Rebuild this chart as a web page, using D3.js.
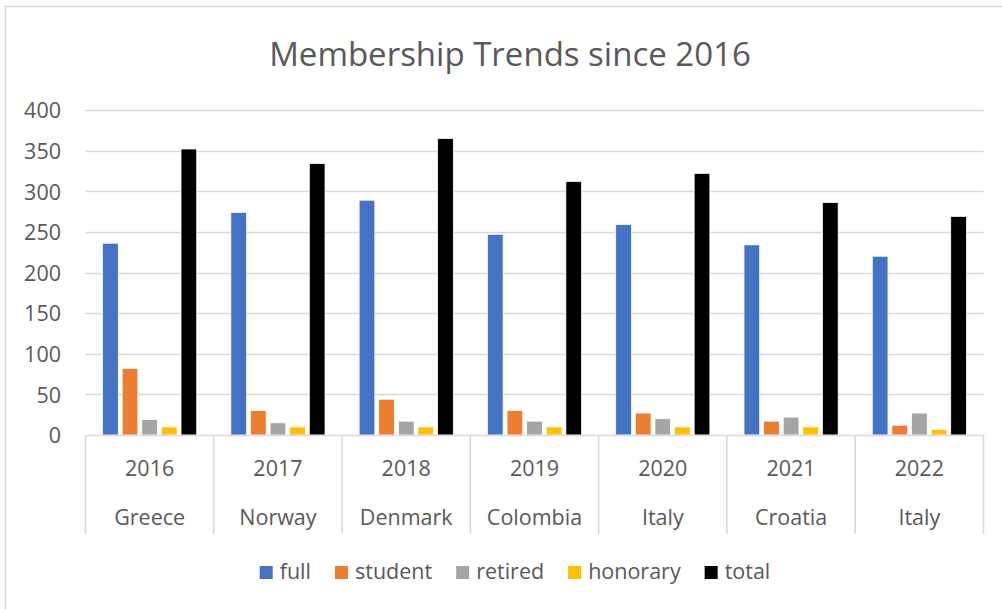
<!DOCTYPE html>
<html>
<head>
<meta charset="utf-8">
<script src="https://cdn.jsdelivr.net/npm/d3@7"></script>
<style>
  html, body { margin: 0; padding: 0; background: #fff; }
  svg { display: block; }
  text { font-family: "Open Sans", "Noto Sans", sans-serif; fill: #595959; }
</style>
</head>
<body>
<svg id="chart" width="1002" height="609"></svg>
<script>
const years = ["2016", "2017", "2018", "2019", "2020", "2021", "2022"];
const countries = ["Greece", "Norway", "Denmark", "Colombia", "Italy", "Croatia", "Italy"];
const seriesNames = ["full", "student", "retired", "honorary", "total"];
const seriesColors = ["#4472C4", "#ED7D31", "#A5A5A5", "#FFC000", "#000000"];
const full     = [236, 274, 289, 247, 259, 234, 220];
const student  = [82, 30, 44, 30, 27, 17, 12];
const retired  = [19, 15, 17, 17, 20, 22, 27];
const honorary = [10, 10, 10, 10, 10, 10, 7];
const total    = [352, 334, 365, 312, 322, 286, 269];
const yTicks   = [0, 50, 100, 150, 200, 250, 300, 350, 400];
const title    = "Membership Trends since 2016";

const seriesValues = [full, student, retired, honorary, total];

const svg = d3.select("#chart");
const plotLeft = 85.5, plotRight = 983.5, plotTop = 110, plotBottom = 435;
const labelSize = "21.5px";

// chart border
svg.append("rect").attr("x", 5.5).attr("y", 6.5).attr("width", 1010).attr("height", 620)
  .attr("fill", "#fff").attr("stroke", "#D9D9D9").attr("stroke-width", 1.5);

const idx = years.map((d, i) => i);
const x0 = d3.scaleBand().domain(idx).range([plotLeft, plotRight]).paddingInner(0).paddingOuter(0);
const x1 = d3.scaleBand().domain(seriesNames).range([0, x0.bandwidth()]).paddingInner(0.2).paddingOuter(0.87);
const y = d3.scaleLinear().domain([0, 400]).range([plotBottom, plotTop]);

// title
svg.append("text").attr("x", 510).attr("y", 66).attr("text-anchor", "middle")
  .style("font-size", "33px").text(title);

// gridlines
svg.append("g").selectAll("line").data(yTicks.filter(t => t > 0)).join("line")
  .attr("x1", plotLeft).attr("x2", plotRight)
  .attr("y1", d => Math.round(y(d)) + 0.5).attr("y2", d => Math.round(y(d)) + 0.5)
  .attr("stroke", "#D9D9D9").attr("stroke-width", 1.5);

// y axis labels
const yAxis = d3.axisLeft(y).tickValues(yTicks).tickSize(0).tickPadding(0);
const gy = svg.append("g").attr("transform", `translate(61,0)`).call(yAxis);
gy.select(".domain").remove();
gy.selectAll("text").style("font-size", labelSize).attr("fill", "#595959")
  .style("font-family", '"Open Sans", sans-serif').attr("dy", "0.36em");

// bars
const groups = svg.append("g").selectAll("g").data(idx).join("g")
  .attr("transform", i => `translate(${x0(i)},0)`);
groups.selectAll("rect")
  .data(i => seriesNames.map((s, k) => ({ s, k, v: seriesValues[k][i] })))
  .join("rect")
  .attr("x", d => x1(d.s))
  .attr("width", x1.bandwidth())
  .attr("y", d => y(d.v))
  .attr("height", d => y(0) - y(d.v))
  .attr("fill", d => seriesColors[d.k])
  .attr("stroke", "#fff").attr("stroke-width", 0.75);

// category axis: baseline + dividers
svg.append("line").attr("x1", plotLeft).attr("x2", plotRight).attr("y1", plotBottom + 0.5).attr("y2", plotBottom + 0.5)
  .attr("stroke", "#D9D9D9").attr("stroke-width", 1.5);
const divs = idx.map(i => x0(i)).concat([x0(idx[idx.length - 1]) + x0.bandwidth()]);
svg.append("g").selectAll("line").data(divs).join("line")
  .attr("x1", d => d).attr("x2", d => d).attr("y1", plotBottom).attr("y2", 534)
  .attr("stroke", "#D9D9D9").attr("stroke-width", 1.5);

const labels = svg.append("g").selectAll("g").data(idx).join("g")
  .attr("transform", i => `translate(${x0(i) + x0.bandwidth() / 2},0)`);
labels.append("text").attr("y", 476).attr("text-anchor", "middle")
  .style("font-size", labelSize).text(i => years[i]);
labels.append("text").attr("y", 525).attr("text-anchor", "middle")
  .style("font-size", labelSize).text(i => countries[i]);

// legend
const lg = svg.append("g");
let cx = 0;
const gap = 24;
seriesNames.forEach((s, k) => {
  const g = lg.append("g");
  g.append("rect").attr("x", 0).attr("y", 566).attr("width", 13).attr("height", 13)
    .attr("fill", seriesColors[k]);
  const t = g.append("text").attr("x", 20).attr("y", 579).style("font-size", labelSize).text(s);
  const w = 20 + t.node().getComputedTextLength();
  g.attr("transform", `translate(${cx},0)`);
  cx += w + gap;
});
const lw = cx - gap;
lg.attr("transform", `translate(${515 - lw / 2},0)`);
</script>
</body>
</html>
